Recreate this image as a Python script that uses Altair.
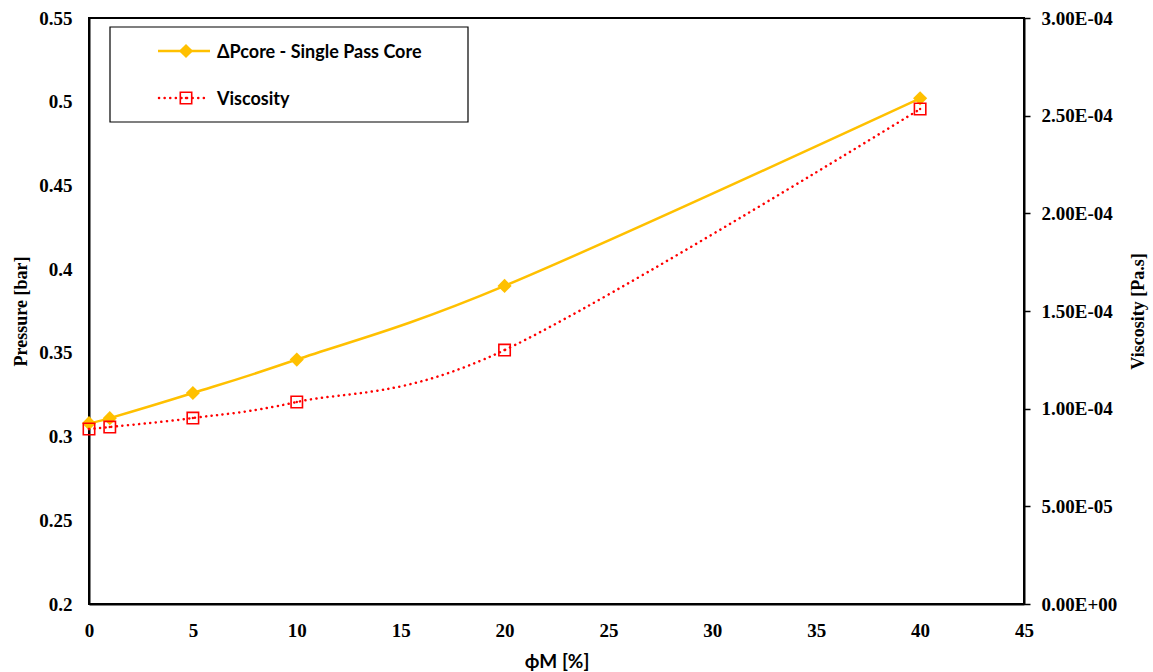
import altair as alt
import pandas as pd

# Volume fraction of the dispersed phase, pressure drop and viscosity
phi_m = [0, 1, 5, 10, 20, 40]
pressure_bar = [0.308, 0.311, 0.326, 0.346, 0.390, 0.502]
viscosity_pas = [0.896e-4, 0.906e-4, 0.952e-4, 1.034e-4, 1.30e-4, 2.534e-4]

x_ticks = list(range(0, 50, 5))
p_ticks = [0.2, 0.25, 0.3, 0.35, 0.4, 0.45, 0.5, 0.55]
v_ticks = [0, 5e-5, 1e-4, 1.5e-4, 2e-4, 2.5e-4, 3e-4]

legend_labels = ["ΔPcore - Single Pass Core", "Viscosity"]

df = pd.DataFrame({"phi": phi_m, "p": pressure_bar, "mu": viscosity_pas})

GOLD = "#FFC000"
RED = "#FF0000"
SERIF = "Liberation Serif"
SANS = "Lato"

x_axis = alt.Axis(
    values=x_ticks, title="ϕM [%]", titleFont=SANS, titleFontSize=19,
    titleFontWeight="bold", titleY=57, titleBaseline="middle",
    labelFont=SERIF, labelFontSize=19, labelFontWeight="bold", labelPadding=17,
    labelFlush=False, labelOverlap=False,
    tickSize=0, grid=False, domainColor="black", domainWidth=2,
    labelColor="black", titleColor="black",
)
p_axis = alt.Axis(
    values=p_ticks, format=".2~f", title="Pressure [bar]", titleFont=SERIF,
    titleFontSize=18, titleFontWeight="bold", titleX=-68, titleY=293,
    titleAngle=270, titleAlign="center", titleBaseline="middle",
    labelFont=SERIF, labelFontSize=19, labelFontWeight="bold",
    labelPadding=17, labelFlush=False, labelOverlap=False,
    tickSize=0, grid=False, domainColor="black",
    domainWidth=2, labelColor="black", titleColor="black",
)
v_label = (
    "split(format(datum.value, '.2e'), 'e')[0] + 'E' + "
    "substring(split(format(datum.value, '.2e'), 'e')[1], 0, 1) + '0' + "
    "substring(split(format(datum.value, '.2e'), 'e')[1], 1)"
)
v_axis = alt.Axis(
    values=v_ticks, labelExpr=v_label, orient="right", title="Viscosity [Pa.s]",
    titleFont=SERIF, titleFontSize=18, titleFontWeight="bold",
    titleX=114, titleY=293, titleAngle=270, titleAlign="center",
    titleBaseline="middle",
    labelFont=SERIF, labelFontSize=19, labelFontWeight="bold",
    labelPadding=11, labelFlush=False, labelOverlap=False,
    tickSize=6, tickColor="black", tickWidth=1.5,
    grid=False, domainColor="black", domainWidth=2,
    labelColor="black", titleColor="black",
)

p_scale = alt.Scale(domain=[0.2, 0.55], nice=False)
v_scale = alt.Scale(domain=[0, 3e-4], nice=False)


def x_enc():
    return alt.X("phi:Q", scale=alt.Scale(domain=[0, 45], nice=False), axis=x_axis)


def p_enc():
    return alt.Y("p:Q", scale=p_scale, axis=p_axis)


def v_enc():
    return alt.Y("mu:Q", scale=v_scale, axis=v_axis)


base = alt.Chart(df)

p_line = base.mark_line(color=GOLD, strokeWidth=2.5, interpolate="cardinal").encode(
    x=x_enc(), y=p_enc()
)
p_pts = base.mark_point(shape="diamond", filled=True, color=GOLD, size=200,
                        opacity=1).encode(x=x_enc(), y=p_enc())
pressure = alt.layer(p_line, p_pts)

v_line = base.mark_line(
    color=RED, strokeWidth=2.5, strokeDash=[0.1, 5.5], strokeCap="round",
    interpolate="cardinal",
).encode(x=x_enc(), y=v_enc())
v_pts = base.mark_point(shape="square", filled=False, color=RED, size=130,
                        strokeWidth=1.6, opacity=1).encode(x=x_enc(), y=v_enc())
v_dot = base.mark_point(shape="circle", filled=True, color=RED, size=6,
                        opacity=1).encode(x=x_enc(), y=v_enc())
viscosity = alt.layer(v_line, v_pts, v_dot)

# Boxed legend in the upper-left corner of the plot area
one = alt.Data(values=[{}])
lg_box = alt.Chart(one).mark_rect(fill="white", stroke="black", strokeWidth=1.2).encode(
    x=alt.value(21), x2=alt.value(379), y=alt.value(9), y2=alt.value(104)
)
lg_p_line = alt.Chart(one).mark_rule(color=GOLD, strokeWidth=2.5).encode(
    x=alt.value(69), x2=alt.value(121), y=alt.value(33)
)
lg_p_pt = alt.Chart(one).mark_point(shape="diamond", filled=True, color=GOLD,
                                    size=200, opacity=1).encode(
    x=alt.value(97), y=alt.value(33)
)
lg_v_line = alt.Chart(one).mark_rule(color=RED, strokeWidth=2.5, strokeDash=[0.1, 5.5],
                                     strokeCap="round").encode(
    x=alt.value(70), x2=alt.value(120), y=alt.value(80)
)
lg_v_pt = alt.Chart(one).mark_point(shape="square", filled=False, color=RED, size=130,
                                    strokeWidth=1.6, opacity=1).encode(
    x=alt.value(97), y=alt.value(80)
)
lg_v_dot = alt.Chart(one).mark_point(shape="circle", filled=True, color=RED, size=6,
                                     opacity=1).encode(
    x=alt.value(97), y=alt.value(80)
)
lg_text_p = alt.Chart(one).mark_text(
    font=SANS, fontSize=18, fontWeight="bold", align="left", baseline="middle",
    color="black", text=legend_labels[0],
).encode(x=alt.value(128), y=alt.value(35))
lg_text_v = alt.Chart(one).mark_text(
    font=SANS, fontSize=18, fontWeight="bold", align="left", baseline="middle",
    color="black", text=legend_labels[1],
).encode(x=alt.value(128), y=alt.value(82))

legend = alt.layer(lg_box, lg_p_line, lg_p_pt, lg_v_line, lg_v_pt, lg_v_dot,
                   lg_text_p, lg_text_v)

chart = (
    alt.layer(pressure, viscosity, legend)
    .resolve_scale(y="independent")
    .properties(
        width=935, height=586,
        autosize=alt.AutoSizeParams(type="none"),
        padding={"left": 89, "top": 18, "right": 129, "bottom": 68},
        background="white",
    )
    .configure_view(stroke="black", strokeWidth=2)
)

chart.save("out.html", embed_options={"renderer": "svg", "actions": False})
